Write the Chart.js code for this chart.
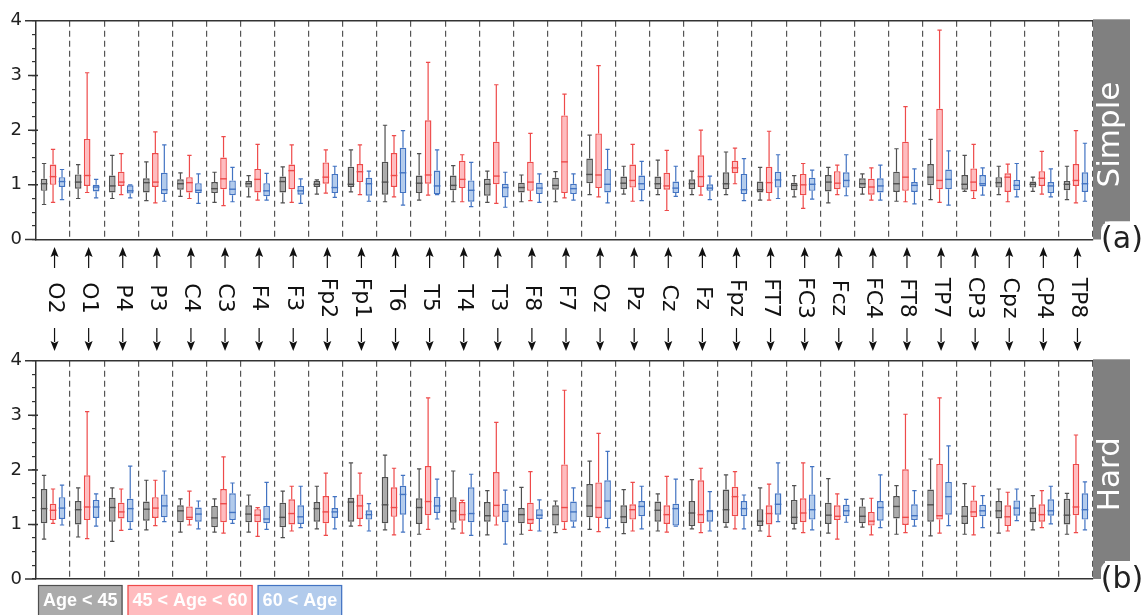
<!DOCTYPE html>
<html>
<head>
<meta charset="utf-8">
<script src="https://cdn.jsdelivr.net/npm/chart.js@4.4.1/dist/chart.umd.min.js"></script>
<style>
  body { margin: 0; background: #fff; }
  #wrap { position: relative; width: 1142px; height: 615px; overflow: hidden; }
  canvas { position: absolute; left: 0; }
  #simple { top: 0; }
  #hard { top: 340px; }
</style>
</head>
<body>
<div id="wrap">
  <canvas id="simple" width="1142" height="352"></canvas>
  <canvas id="hard" width="1142" height="275"></canvas>
</div>
<script>
var electrodes = ['O2','O1','P4','P3','C4','C3','F4','F3','Fp2','Fp1','T6','T5','T4','T3','F8','F7',
  'Oz','Pz','Cz','Fz','Fpz','FT7','FC3','Fcz','FC4','FT8','TP7','CP3','Cpz','CP4','TP8'];
var groupNames = ['Age < 45', '45 < Age < 60', '60 < Age'];
var yTicks = [0, 1, 2, 3, 4];

// Simple task, Age < 45
var sgMin = [.64,.75,.75,.71,.79,.68,.78,.67,.83,.87,.69,.72,.69,.68,.69,.69,.82,.83,.82,.82,.82,.72,.78,.67,.83,.70,.73,.88,.82,.88,.73];
var sgQ1  = [.89,.93,.86,.86,.91,.85,.95,.86,.96,.96,.82,.85,.90,.80,.86,.91,1.03,.92,.92,.92,.92,.86,.90,.88,.94,.87,.99,.91,.95,.95,.90];
var sgMed = [1.02,1.05,.98,1.04,1.02,.93,1.02,1.06,1.01,1.01,1.05,1.03,.99,1.01,.95,.99,1.19,1.03,1.02,1.02,1.02,.91,.99,1.05,1.02,1.02,1.14,1.01,1.04,1.01,1.01];
var sgQ3  = [1.11,1.19,1.17,1.12,1.10,1.05,1.07,1.15,1.07,1.33,1.42,1.17,1.17,1.11,1.04,1.13,1.48,1.15,1.15,1.10,1.23,1.06,1.04,1.18,1.12,1.24,1.38,1.18,1.14,1.06,1.07];
var sgMax = [1.39,1.37,1.54,1.42,1.22,1.23,1.17,1.33,1.09,1.64,2.09,1.57,1.35,1.25,1.18,1.24,1.91,1.34,1.45,1.25,1.60,1.32,1.17,1.32,1.20,1.66,1.83,1.54,1.34,1.14,1.34];
// Simple task, 45 < Age < 60
var srMin = [.68,.86,.82,.67,.75,.62,.72,.68,.85,.82,.78,.81,.69,.66,.71,.76,.78,.70,.53,.81,1.02,.72,.57,.82,.72,.69,.68,.75,.69,.83,.67];
var srQ1  = [1.0,.98,.98,.96,.86,.92,.86,.92,1.02,1.05,.96,1.02,.94,1.01,.89,.85,.94,.95,.91,.96,1.21,.85,.81,.92,.82,.89,.92,.88,.87,.98,.98];
var srMed = [1.15,1.17,1.05,1.05,1.04,1.11,1.10,1.26,1.14,1.24,1.17,1.18,1.10,1.16,1.05,1.42,1.18,1.08,.98,1.15,1.31,1.04,1.00,1.03,.96,1.14,1.08,1.05,1.14,1.12,1.08];
var srQ3  = [1.37,1.84,1.24,1.58,1.14,1.50,1.29,1.37,1.41,1.38,1.58,2.18,1.44,1.79,1.42,2.27,1.94,1.37,1.22,1.54,1.44,1.33,1.20,1.25,1.11,1.79,2.39,1.30,1.21,1.25,1.38];
var srMax = [1.65,3.05,1.57,1.97,1.54,1.88,1.74,1.73,1.64,1.73,1.90,3.24,1.55,2.83,1.94,2.66,3.18,1.74,1.63,2.00,1.67,1.98,1.39,1.36,1.31,2.43,3.83,1.74,1.38,1.61,1.99];
// Simple task, 60 < Age
var sbMin = [.73,.76,.76,.70,.66,.69,.72,.66,.77,.70,.63,.82,.60,.59,.68,.72,.67,.71,.79,.73,.71,.75,.74,.80,.72,.65,.63,.81,.78,.78,.70];
var sbQ1  = [.96,.88,.84,.83,.85,.81,.79,.82,.85,.80,.85,.83,.69,.77,.83,.83,.86,.90,.85,.89,.83,.95,.89,.95,.86,.87,.92,.97,.90,.85,.87];
var sbMed = [1.06,.96,.89,.91,.90,.92,.89,.89,.95,1.02,1.22,.98,.90,.95,.94,.93,1.01,1.02,.94,.94,.91,1.09,1.01,1.08,.98,.99,1.10,1.02,.99,.98,1.02];
var sbQ3  = [1.14,1.0,.99,1.22,1.03,1.08,1.03,.98,1.20,1.13,1.68,1.26,1.08,1.02,1.04,1.02,1.29,1.17,1.06,1.01,1.20,1.24,1.13,1.23,1.12,1.05,1.28,1.18,1.09,1.05,1.23];
var sbMax = [1.28,1.10,1.0,1.73,1.20,1.32,1.21,1.11,1.34,1.25,1.99,1.64,1.41,1.23,1.20,1.20,1.65,1.43,1.34,1.16,1.48,1.55,1.27,1.55,1.36,1.29,1.62,1.31,1.39,1.29,1.76];

// Hard task, Age < 45
var hgMin = [.73,.77,.69,.90,.86,.86,.86,.76,.92,.97,.90,.82,.92,.81,.82,.85,.91,.83,.88,.92,.95,.88,.92,.84,.95,.82,.79,.82,.84,.90,.82];
var hgQ1  = [1.02,1.0,1.05,1.07,1.04,.95,1.04,.95,1.05,1.05,1.02,1.01,1.03,1.05,1.02,.98,1.13,1.02,1.05,.97,1.02,.97,1.01,1.01,1.02,1.11,1.05,1.01,1.11,1.04,1.00];
var hgMed = [1.29,1.27,1.31,1.28,1.25,1.12,1.19,1.13,1.29,1.41,1.36,1.31,1.25,1.16,1.18,1.18,1.34,1.14,1.26,1.21,1.27,1.06,1.13,1.17,1.15,1.33,1.36,1.15,1.25,1.21,1.17];
var hgQ3  = [1.65,1.43,1.49,1.42,1.35,1.34,1.35,1.40,1.41,1.49,1.87,1.48,1.50,1.41,1.30,1.35,1.74,1.35,1.42,1.43,1.64,1.28,1.45,1.40,1.33,1.52,1.64,1.34,1.43,1.31,1.47];
var hgMax = [1.90,1.67,1.67,1.81,1.47,1.47,1.54,1.61,1.70,2.13,2.27,2.02,1.98,1.62,1.68,1.43,2.16,1.64,1.56,1.82,1.91,1.67,1.71,1.84,1.47,1.71,2.20,1.75,1.65,1.53,1.57];
// Hard task, 45 < Age < 60
var hrMin = [1.02,.74,.89,.98,.99,.84,.78,.88,.80,.98,.81,.91,.84,.99,.89,.91,.87,.88,.86,.85,.92,.78,.85,.73,.81,.85,.84,.81,.88,.94,.85];
var hrQ1  = [1.08,1.08,1.11,1.12,1.08,1.04,1.04,1.0,1.02,1.10,1.14,1.17,1.07,1.14,1.01,1.04,1.12,1.09,1.01,1.02,1.15,1.00,1.04,1.08,.98,.99,1.09,1.13,.97,1.05,1.17];
var hrMed = [1.26,1.32,1.23,1.30,1.13,1.38,1.17,1.20,1.23,1.34,1.31,1.42,1.18,1.35,1.09,1.31,1.31,1.27,1.18,1.18,1.51,1.20,1.21,1.15,1.06,1.13,1.16,1.23,1.14,1.18,1.32];
var hrQ3  = [1.38,1.90,1.40,1.50,1.33,1.65,1.28,1.46,1.52,1.55,1.68,2.07,1.41,1.96,1.40,2.10,1.77,1.37,1.35,1.81,1.69,1.35,1.48,1.35,1.23,2.01,2.11,1.44,1.35,1.37,2.11];
var hrMax = [1.65,3.07,1.65,1.81,1.61,2.24,1.31,1.70,1.94,1.94,2.03,3.32,1.44,2.87,1.97,3.46,2.67,1.77,1.88,2.03,1.97,1.74,2.13,1.56,1.48,3.02,3.32,1.70,1.59,1.62,2.64];
// Hard task, 60 < Age
var hbMin = [.99,.97,.91,1.05,.92,1.02,.91,.94,.92,.88,.86,1.10,.80,.64,.88,.95,.94,.92,.97,.88,.92,1.05,.90,1.04,.94,.97,.98,.94,1.07,1.01,.90];
var hbQ1  = [1.10,1.12,1.04,1.13,1.05,1.08,1.02,1.01,1.12,1.09,1.18,1.21,1.04,1.04,1.10,1.05,1.10,1.15,.98,1.05,1.15,1.18,1.09,1.15,1.07,1.08,1.18,1.15,1.16,1.16,1.09];
var hbMed = [1.30,1.32,1.29,1.34,1.19,1.22,1.10,1.14,1.23,1.18,1.55,1.34,1.20,1.24,1.17,1.23,1.43,1.33,1.29,1.24,1.29,1.37,1.27,1.25,1.31,1.16,1.51,1.25,1.30,1.25,1.27];
var hbQ3  = [1.50,1.45,1.47,1.55,1.31,1.57,1.34,1.35,1.30,1.26,1.71,1.51,1.68,1.38,1.28,1.42,1.81,1.43,1.38,1.27,1.43,1.57,1.55,1.36,1.43,1.37,1.78,1.36,1.44,1.46,1.57];
var hbMax = [1.72,1.56,2.07,1.98,1.43,1.76,1.77,1.70,1.51,1.38,1.90,1.83,1.92,1.63,1.45,1.67,2.34,1.70,1.83,1.60,1.54,2.13,2.06,1.46,1.91,1.62,2.44,1.53,1.65,1.70,1.78];

var groupFill = ['#ababab', '#ffbcbf', '#b2cbec'];
var groupLine = ['#4f4f4f', '#ee4a4a', '#4273c2'];
var fontFam = "'DejaVu Sans', sans-serif";

function makeDataset(g, min, q1, med, q3, max) {
  return {
    label: groupNames[g],
    data: q1.map(function(v, i) { return [v, q3[i]]; }),
    whisk: { min: min, med: med, max: max },
    backgroundColor: groupFill[g],
    borderColor: groupLine[g],
    borderWidth: 1.4,
    borderSkipped: false,
    categoryPercentage: 0.79,
    barPercentage: 0.74
  };
}

// whiskers, caps and medians drawn on top of the floating bars
var boxWhiskers = {
  id: 'boxWhiskers',
  afterDatasetsDraw: function(chart) {
    var ctx = chart.ctx, y = chart.scales.y;
    chart.data.datasets.forEach(function(ds, d) {
      var meta = chart.getDatasetMeta(d);
      meta.data.forEach(function(bar, i) {
        var half = bar.width / 2, cap = half * 0.65;
        var pMin = y.getPixelForValue(ds.whisk.min[i]);
        var pMax = y.getPixelForValue(ds.whisk.max[i]);
        var pMed = y.getPixelForValue(ds.whisk.med[i]);
        var pQ1 = y.getPixelForValue(ds.data[i][0]);
        var pQ3 = y.getPixelForValue(ds.data[i][1]);
        ctx.save();
        ctx.strokeStyle = ds.borderColor;
        ctx.lineWidth = 1.2;
        ctx.beginPath();
        ctx.moveTo(bar.x, pMax); ctx.lineTo(bar.x, pQ3);
        ctx.moveTo(bar.x, pQ1); ctx.lineTo(bar.x, pMin);
        ctx.moveTo(bar.x - cap, pMax); ctx.lineTo(bar.x + cap, pMax);
        ctx.moveTo(bar.x - cap, pMin); ctx.lineTo(bar.x + cap, pMin);
        ctx.stroke();
        ctx.lineWidth = 1.4;
        ctx.beginPath();
        ctx.moveTo(bar.x - half, pMed); ctx.lineTo(bar.x + half, pMed);
        ctx.stroke();
        ctx.restore();
      });
    });
  }
};

function panelDecor(name, tag, withNames, withLegend) {
  return {
    id: 'panelDecor',
    afterDraw: function(chart) {
      var ctx = chart.ctx, a = chart.chartArea, x = chart.scales.x, y = chart.scales.y;
      ctx.save();
      // frame lines and long ticks
      ctx.strokeStyle = '#333';
      ctx.lineWidth = 1.5;
      ctx.beginPath();
      ctx.moveTo(a.left - 11, y.getPixelForValue(4)); ctx.lineTo(a.right, y.getPixelForValue(4));
      ctx.moveTo(a.left - 11, y.getPixelForValue(0)); ctx.lineTo(a.left, y.getPixelForValue(0));
      [1, 2, 3].forEach(function(v) {
        ctx.moveTo(a.left - 8, y.getPixelForValue(v)); ctx.lineTo(a.left + 2, y.getPixelForValue(v));
      });
      ctx.stroke();

      // grey side strip with the task name
      var top = y.getPixelForValue(4) - 1.5, bot = a.bottom - 18;
      ctx.fillStyle = '#808080';
      ctx.fillRect(a.right, top, 37, bot - top);
      ctx.fillRect(a.right, bot - 2, 12, 20);
      ctx.fillStyle = '#fff';
      ctx.beginPath();
      ctx.roundRect(a.right + 8, bot, 60, 40, 9);
      ctx.fill();
      ctx.save();
      ctx.translate(a.right + 18, a.top + a.height * 0.52);
      ctx.rotate(-Math.PI / 2);
      ctx.fillStyle = '#fff';
      ctx.font = '31px ' + fontFam;
      ctx.textAlign = 'center';
      ctx.textBaseline = 'middle';
      ctx.fillText(name, 0, 0);
      ctx.restore();
      ctx.fillStyle = '#222';
      ctx.font = '30px ' + fontFam;
      ctx.textAlign = 'center';
      ctx.textBaseline = 'middle';
      ctx.fillText(tag, a.right + 29, a.bottom + 1);

      if (withNames) {
        electrodes.forEach(function(lbl, i) {
          var px = x.getPixelForValue(i) + 1.5;
          ctx.strokeStyle = '#111';
          ctx.fillStyle = '#111';
          ctx.lineWidth = 1.2;
          ctx.beginPath();
          ctx.moveTo(px, 255); ctx.lineTo(px, 268);
          ctx.moveTo(px, 328); ctx.lineTo(px, 342);
          ctx.stroke();
          ctx.beginPath();
          ctx.moveTo(px, 247); ctx.lineTo(px - 4, 257); ctx.lineTo(px, 255); ctx.lineTo(px + 4, 257);
          ctx.closePath(); ctx.fill();
          ctx.beginPath();
          ctx.moveTo(px, 351); ctx.lineTo(px - 4, 341); ctx.lineTo(px, 343); ctx.lineTo(px + 4, 341);
          ctx.closePath(); ctx.fill();
          ctx.save();
          ctx.translate(px, 298);
          ctx.rotate(Math.PI / 2);
          ctx.font = '22px ' + fontFam;
          ctx.textAlign = 'center';
          ctx.textBaseline = 'middle';
          ctx.fillText(lbl, 0, 0);
          ctx.restore();
        });
      }

      if (withLegend) {
        var lx = 38, ly = a.bottom + 6;
        ctx.font = "bold 18px 'Liberation Sans', Arial, sans-serif";
        ctx.textBaseline = 'middle';
        ctx.textAlign = 'left';
        chart.data.datasets.forEach(function(ds) {
          var w = ctx.measureText(ds.label).width + 10;
          ctx.fillStyle = ds.backgroundColor;
          ctx.fillRect(lx, ly, w, 32);
          ctx.strokeStyle = ds.borderColor;
          ctx.lineWidth = 1.2;
          ctx.strokeRect(lx + 0.5, ly + 0.5, w - 1, 32);
          ctx.fillStyle = '#fff';
          ctx.fillText(ds.label, lx + 5, ly + 16);
          lx += w + 5;
        });
      }
      ctx.restore();
    }
  };
}

function makePanel(canvasId, name, tag, stats, padTop, padBottom, withNames, withLegend) {
  var ctx = document.getElementById(canvasId).getContext('2d');
  var n = electrodes.length;
  return new Chart(ctx, {
    type: 'bar',
    data: {
      labels: electrodes,
      datasets: stats.map(function(s, g) { return makeDataset(g, s[0], s[1], s[2], s[3], s[4]); })
    },
    options: {
      responsive: false,
      animation: false,
      layout: { padding: { left: 0, right: 49, top: padTop, bottom: padBottom } },
      plugins: { legend: { display: false }, tooltip: { enabled: false } },
      scales: {
        x: {
          offset: true,
          ticks: { display: false },
          grid: {
            offset: true,
            drawTicks: false,
            lineWidth: 1.2,
            color: function(c) { return (c.index === 0 || c.index >= n) ? 'rgba(0,0,0,0)' : '#555'; }
          },
          border: { display: true, color: '#333', width: 1.5, dash: [6, 4] },
          afterFit: function(s) { s.height = 0; }
        },
        y: {
          min: 0,
          max: 4,
          ticks: {
            stepSize: 0.25,
            autoSkip: false,
            padding: 10,
            color: '#222',
            font: { family: fontFam, size: 18 },
            callback: function(v) {
              var r = Math.round(v);
              return (Math.abs(v - r) < 1e-6 && yTicks.indexOf(r) >= 0) ? String(r) : '';
            }
          },
          grid: { drawOnChartArea: false, tickLength: 4, color: '#333', lineWidth: 1.2 },
          border: { color: '#333', width: 1.5 },
          afterFit: function(s) { s.width = 36; }
        }
      }
    },
    plugins: [boxWhiskers, panelDecor(name, tag, withNames, withLegend)]
  });
}

makePanel('simple', 'Simple', '(a)', [
  [sgMin, sgQ1, sgMed, sgQ3, sgMax],
  [srMin, srQ1, srMed, srQ3, srMax],
  [sbMin, sbQ1, sbMed, sbQ3, sbMax]
], 13.5, 112.5, true, false);

makePanel('hard', 'Hard', '(b)', [
  [hgMin, hgQ1, hgMed, hgQ3, hgMax],
  [hrMin, hrQ1, hrMed, hrQ3, hrMax],
  [hbMin, hbQ1, hbMed, hbQ3, hbMax]
], 12.7, 36, false, true);
</script>
</body>
</html>
